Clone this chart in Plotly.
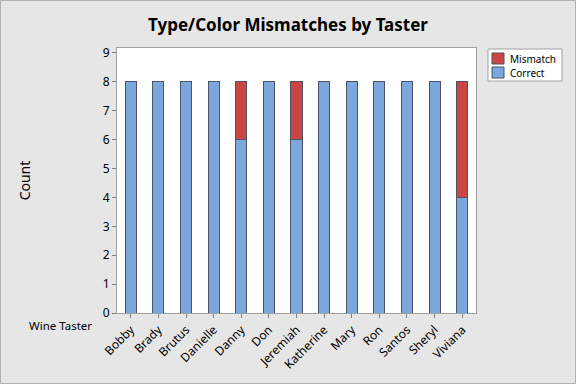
import plotly.graph_objects as go

tasters = ["Bobby", "Brady", "Brutus", "Danielle", "Danny", "Don", "Jeremiah",
           "Katherine", "Mary", "Ron", "Santos", "Sheryl", "Viviana"]
correct = [8, 8, 8, 8, 6, 8, 6, 8, 8, 8, 8, 8, 4]
mismatch = [0, 0, 0, 0, 2, 0, 2, 0, 0, 0, 0, 0, 4]

W, H = 576, 384
L, R, T, B = 117, 100, 48, 71
pw, ph = W - L - R, H - T - B

def px(x):
    return (x - L) / pw

def py(y):
    return (H - B - y) / ph

font = "Noto Sans, Open Sans, sans-serif"
outline = dict(color="#4b5563", width=1)
c_correct = "#7ba7dc"
c_mismatch = "#cc4444"

fig = go.Figure()
fig.add_trace(go.Bar(x=tasters, y=correct, name="Correct",
                     marker=dict(color=c_correct, line=outline), width=0.4))
fig.add_trace(go.Bar(x=tasters, y=mismatch, name="Mismatch",
                     marker=dict(color=c_mismatch, line=outline), width=0.4))

shapes = [
    # outer border
    dict(type="rect", xref="paper", yref="paper",
         x0=px(0.5), x1=px(W - 0.5), y0=py(H - 0.5), y1=py(0.5),
         line=dict(color="#b0b0b0", width=1), layer="below"),
    # legend box
    dict(type="rect", xref="paper", yref="paper",
         x0=px(488), x1=px(562), y0=py(81), y1=py(49),
         fillcolor="white", line=dict(color="#a0a0a0", width=1)),
    dict(type="rect", xref="paper", yref="paper",
         x0=px(492), x1=px(504), y0=py(64), y1=py(53),
         fillcolor=c_mismatch, line=outline),
    dict(type="rect", xref="paper", yref="paper",
         x0=px(492), x1=px(504), y0=py(78), y1=py(67),
         fillcolor=c_correct, line=outline),
]

annotations = [
    dict(text="Wine Taster", xref="paper", yref="paper",
         x=px(94), y=py(325), xanchor="right", yanchor="middle",
         showarrow=False, font=dict(size=11.5)),
    dict(text="Mismatch", xref="paper", yref="paper",
         x=px(508), y=py(58.5), xanchor="left", yanchor="middle",
         showarrow=False, font=dict(size=10)),
    dict(text="Correct", xref="paper", yref="paper",
         x=px(508), y=py(72.5), xanchor="left", yanchor="middle",
         showarrow=False, font=dict(size=10)),
]

fig.update_layout(
    width=W, height=H, barmode="stack",
    margin=dict(l=L, r=R, t=T, b=B, autoexpand=False),
    paper_bgcolor="#e6e6e6", plot_bgcolor="white",
    font=dict(family=font, size=12, color="black"),
    title=dict(text="<b>Type/Color Mismatches by Taster</b>", x=0.5, xanchor="center",
               y=1 - 25 / H, yanchor="middle",
               font=dict(size=17, family=font, color="black")),
    showlegend=False,
    xaxis=dict(range=[-0.5, 12.5], tickangle=-45, showline=True, linecolor="#a0a0a0",
               mirror=True, ticks="outside", ticklen=4, tickcolor="#808080",
               tickfont=dict(size=12), showgrid=False),
    yaxis=dict(range=[0, 9.17], tickvals=list(range(10)), showline=True,
               linecolor="#a0a0a0", mirror=True, ticks="outside", ticklen=4,
               tickcolor="#808080", showgrid=False, zeroline=False,
               title=dict(text="Count", font=dict(size=14), standoff=68),
               tickfont=dict(size=12)),
    annotations=annotations,
    shapes=shapes,
)

fig.write_html("out.html", config={"displayModeBar": False},
               post_script="document.body.style.margin='0';")
